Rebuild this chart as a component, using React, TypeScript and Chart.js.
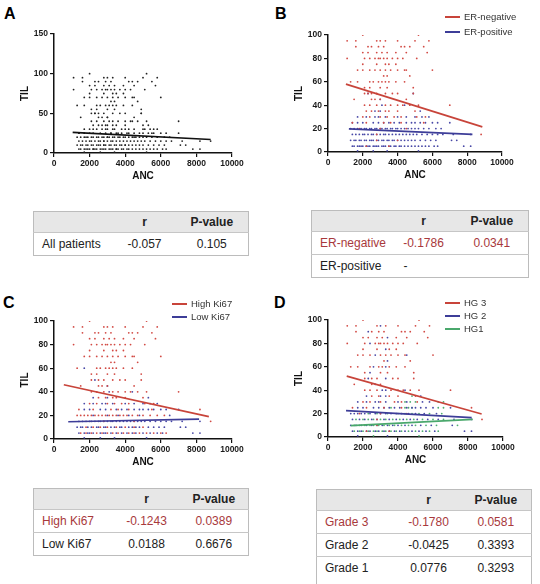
import React, { useEffect, useRef } from "react";
import { Chart, registerables } from "chart.js";

Chart.register(...registerables);

type Rows = [number, number[]][];

// Each row: TIL score (%) followed by the ANC values of the patients at that score,
// stored in hundreds of cells/µL.
const erNegRows: Rows = [
  [100, [20, 52]],
  [95, [11, 16, 28, 30, 33, 40, 50, 58]],
  [90, [16, 23, 25, 29, 32, 42, 44, 47, 55]],
  [85, [20, 23, 28, 31, 34, 39, 45, 57]],
  [80, [11, 21, 24, 27, 29, 30, 32, 34, 37, 40, 43, 51]],
  [75, [20, 28, 33, 35, 39]],
  [70, [17, 20, 24, 27, 30, 33, 36, 40, 44, 45, 60]],
  [65, [32, 34, 47]],
  [60, [13, 17, 24, 26, 29, 31, 33, 35, 39, 44]],
  [55, [21, 24, 30, 34, 49]],
  [50, [21, 23, 25, 28, 33, 37, 40, 49]],
  [45, [15, 25, 27, 30, 45]],
  [40, [21, 24, 28, 33, 36, 40, 43, 47, 52, 70]],
  [35, [22, 25, 29, 33, 35, 40, 50]],
  [30, [20, 24, 30, 34, 38, 42, 51, 56]],
  [25, [14, 22, 32, 36, 42, 55]],
  [20, [18, 30, 45]],
  [15, [28, 88]],
  [10, [28, 40]],
  [5, [22, 35]],
];

const erPosRows: Rows = [
  [50, [23, 49]],
  [45, [30]],
  [40, [31, 44]],
  [35, [27, 30, 53]],
  [30, [17, 22, 27, 29, 33, 40, 45, 50, 54, 58]],
  [25, [14, 17, 20, 26, 29, 32, 35, 38, 41, 45, 48, 50, 53, 56, 60, 63, 70]],
  [20, [13, 15, 17, 19, 21, 22, 24, 25, 27, 28, 30, 31, 33, 34, 36, 37, 39, 40, 42, 44, 46, 48, 50, 52, 55, 58, 62, 65]],
  [15, [14, 16, 18, 20, 21, 23, 25, 26, 28, 30, 32, 33, 35, 37, 39, 41, 43, 45, 47, 49, 51, 54, 57, 60, 63, 66, 72, 82]],
  [10, [13, 15, 16, 18, 19, 21, 22, 24, 25, 26, 28, 29, 31, 32, 34, 35, 37, 38, 40, 42, 44, 46, 48, 50, 53, 56, 59, 62, 71, 74]],
  [5, [14, 15, 17, 18, 19, 20, 22, 23, 24, 26, 27, 28, 29, 31, 32, 33, 35, 36, 38, 39, 41, 42, 44, 46, 48, 50, 52, 54, 56, 58, 61, 63, 78, 82]],
  [1, [17, 26, 34, 52]],
];

const hiKi67Rows: Rows = [
  [100, [20, 52]],
  [95, [11, 16, 28, 30, 33, 40, 50, 58]],
  [90, [16, 23, 25, 29, 32, 42, 44, 47, 55]],
  [85, [20, 23, 28, 31, 34, 39, 45, 57]],
  [80, [11, 21, 24, 27, 29, 30, 32, 34, 37, 40, 43, 51]],
  [75, [20, 28, 33, 35, 39]],
  [70, [17, 20, 24, 27, 30, 33, 36, 40, 44, 45, 60]],
  [65, [32, 34, 47]],
  [60, [13, 24, 26, 29, 31, 33, 35, 39, 44]],
  [55, [21, 24, 30, 34, 49]],
  [50, [21, 25, 28, 33, 37, 40, 49]],
  [45, [15, 25, 27, 30, 45]],
  [40, [21, 24, 28, 33, 36, 40, 43, 47, 52, 70]],
  [35, [25, 29, 33, 35, 40, 50]],
  [30, [20, 24, 30, 34, 38, 42, 51, 56]],
  [25, [14, 22, 32, 36, 42, 55, 82]],
  [20, [13, 15, 17, 19, 21, 23, 25, 27, 29, 31, 33, 35, 37, 39, 41, 44, 47, 50, 54, 58, 62]],
  [15, [28, 45, 88]],
  [10, [18, 22, 26, 30, 35, 40, 45, 50]],
  [5, [15, 18, 21, 24, 27, 30, 33, 36, 39, 42, 45, 48, 52, 56, 60, 63]],
];

const loKi67Rows: Rows = [
  [60, [17]],
  [50, [23]],
  [45, [30]],
  [40, [31, 44]],
  [35, [22, 30, 53]],
  [30, [17, 22, 27, 29, 33, 40, 45, 50, 54, 58]],
  [25, [17, 20, 26, 29, 35, 38, 41, 45, 48, 50, 53, 56, 60, 63, 70]],
  [20, [22, 30, 36, 42, 48, 65]],
  [15, [14, 16, 18, 20, 21, 23, 25, 26, 28, 30, 32, 33, 35, 37, 39, 41, 43, 45, 47, 49, 51, 54, 57, 60, 63, 66, 72, 82]],
  [10, [13, 15, 16, 19, 21, 24, 25, 28, 29, 32, 34, 37, 38, 42, 44, 46, 48, 53, 56, 59, 62, 71, 74]],
  [5, [14, 17, 19, 20, 22, 26, 28, 29, 32, 35, 38, 41, 44, 46, 50, 54, 58, 61, 78, 82]],
  [1, [17, 26, 34, 52]],
];

const hg3Rows: Rows = [
  [100, [20, 52]],
  [95, [11, 16, 28, 33, 40, 50, 58]],
  [90, [16, 25, 29, 32, 42, 44, 47, 55]],
  [85, [20, 23, 28, 31, 39, 45, 57]],
  [80, [11, 21, 27, 29, 30, 32, 34, 37, 40, 43, 51]],
  [75, [20, 28, 35, 39]],
  [70, [17, 20, 24, 30, 33, 36, 40, 44, 60]],
  [65, [32, 47]],
  [60, [13, 17, 24, 29, 31, 35, 39, 44]],
  [55, [21, 30, 34, 49]],
  [50, [21, 25, 28, 37, 40, 49]],
  [45, [15, 25, 30]],
  [40, [21, 24, 28, 36, 40, 43, 47, 52, 70]],
  [35, [25, 29, 35, 40, 50]],
  [30, [20, 24, 30, 38, 42, 51]],
  [25, [14, 22, 32, 42, 82]],
  [20, [18, 30, 45]],
  [15, [28, 88]],
  [10, [28]],
  [5, [22, 35]],
];

const hg2Rows: Rows = [
  [95, [30]],
  [90, [23]],
  [85, [34]],
  [80, [24]],
  [75, [33]],
  [70, [27, 45]],
  [65, [34]],
  [60, [26, 33]],
  [55, [24]],
  [50, [23, 33]],
  [45, [27]],
  [40, [31, 33, 44]],
  [35, [22, 30, 33, 53]],
  [30, [17, 22, 27, 29, 33, 40, 45, 54, 58]],
  [25, [17, 20, 26, 29, 32, 35, 38, 41, 45, 48, 50, 53, 56, 60, 70]],
  [20, [13, 15, 17, 19, 21, 24, 27, 30, 33, 36, 39, 42, 46, 50, 55, 62]],
  [15, [14, 18, 21, 25, 28, 32, 35, 39, 43, 47, 51, 57, 63, 72, 82]],
  [10, [13, 16, 19, 22, 25, 28, 31, 34, 37, 40, 44, 48, 53, 59, 71]],
  [5, [14, 17, 19, 22, 24, 27, 29, 32, 35, 38, 41, 44, 48, 52, 56, 61, 78, 82]],
  [1, [17, 34]],
];

const hg1Rows: Rows = [
  [35, [48]],
  [30, [44, 47, 50, 63, 66]],
  [25, [36, 44, 46, 48, 63, 66]],
  [20, [23, 28, 34, 40, 44, 48, 52, 58, 65]],
  [15, [16, 20, 23, 26, 30, 33, 37, 41, 45, 49, 54, 60, 66]],
  [10, [15, 18, 21, 24, 26, 29, 32, 35, 38, 42, 46, 50, 56, 62, 74]],
  [5, [15, 18, 20, 23, 26, 28, 31, 33, 36, 39, 42, 46, 50, 54, 58, 63]],
  [1, [26, 52]],
];

// Linear fits, given as [ANC, TIL] at both ends of each line.
const fitAll = [[1050, 26], [8800, 17]];
const fitErNeg = [[1030, 58], [8870, 21.5]];
const fitErPos = [[1200, 19.7], [8300, 15.1]];
const fitHiKi67 = [[550, 46], [8700, 19]];
const fitLoKi67 = [[800, 14.6], [8150, 16.8]];
const fitHg3 = [[1070, 52], [8780, 19.7]];
const fitHg2 = [[1030, 22.5], [8210, 16.5]];
const fitHg1 = [[1300, 9.8], [8270, 15]];

const ancTicks = [0, 2000, 4000, 6000, 8000, 10000];
const tilTicksAll = [0, 50, 100, 150];
const tilTicks = [0, 20, 40, 60, 80, 100];

// Correlation tables: [group, r, P-value]
const tableAll = [["All patients", "-0.057", "0.105"]];
const tableEr = [["ER-negative", "-0.1786", "0.0341"], ["ER-positive", "-", ""]];
const tableKi67 = [["High Ki67", "-0.1243", "0.0389"], ["Low Ki67", "0.0188", "0.6676"]];
const tableGrade = [["Grade 3", "-0.1780", "0.0581"], ["Grade 2", "-0.0425", "0.3393"], ["Grade 1", "0.0776", "0.3293"]];

const FONT = '"Liberation Sans", Arial, Helvetica, sans-serif';
const RED = "#c8443a";
const BLUE = "#3d3d98";
const GREEN = "#4aa86c";
const INK = "#111111";
const TEXT_RED = "#a8393c";

const PAD = { left: 0, top: 20, right: 40, bottom: 6 };
const Y_W = 54;
const X_H = 30;

type Series = { label: string; rows: Rows; fit: number[][]; line: string; dot: string };
type Area = { left: number; top: number; right: number; bottom: number };

function toPoints(rows: Rows) {
  return rows.flatMap(([til, anc]) => anc.map((a) => ({ x: a * 100, y: til })));
}

function axis(ticks: number[], title: string, vertical: boolean) {
  return {
    type: "linear",
    min: ticks[0],
    max: ticks[ticks.length - 1],
    afterBuildTicks: (scale: any) => {
      scale.ticks = ticks.map((value) => ({ value }));
    },
    afterFit: (scale: any) => {
      if (vertical) scale.width = Y_W;
      else scale.height = X_H;
    },
    ticks: {
      callback: (v: number) => String(v),
      color: "#1a1a1a",
      font: { family: FONT, size: 8.5, weight: "bold" },
      padding: 2,
      maxRotation: 0,
      autoSkip: false,
    },
    grid: { drawOnChartArea: false, drawTicks: true, tickLength: 4, color: INK, lineWidth: 1.2 },
    border: { display: true, color: INK, width: 1.5 },
    title: {
      display: true,
      text: title,
      color: INK,
      font: { family: FONT, size: 10, weight: "bold" },
      padding: vertical ? { top: 19, bottom: 0 } : { top: 0, bottom: 1 },
    },
  };
}

function ScatterPanel({ area, yTicks, series }: { area: Area; yTicks: number[]; series: Series[] }) {
  const ref = useRef<HTMLCanvasElement>(null);
  const width = area.right - area.left + Y_W + PAD.right;
  const height = area.bottom - area.top + PAD.top + X_H + PAD.bottom;

  useEffect(() => {
    const datasets: any[] = [];
    series.forEach((s) => {
      datasets.push({
        label: s.label,
        data: s.fit.map(([x, y]) => ({ x, y })),
        showLine: true,
        borderColor: s.line,
        borderWidth: 1.7,
        pointRadius: 0,
        order: 0,
      });
    });
    series.forEach((s) => {
      datasets.push({
        label: s.label + " (patients)",
        data: toPoints(s.rows),
        showLine: false,
        pointRadius: 0.9,
        pointBackgroundColor: s.dot,
        pointBorderWidth: 0,
        order: 1,
      });
    });
    const chart = new Chart(ref.current!, {
      type: "scatter",
      data: { datasets },
      options: {
        responsive: false,
        animation: false,
        devicePixelRatio: 1,
        layout: { padding: PAD },
        plugins: { legend: { display: false }, tooltip: { enabled: false } },
        scales: {
          x: axis(ancTicks, "ANC", false) as any,
          y: axis(yTicks, "TIL", true) as any,
        },
      },
    });
    return () => chart.destroy();
  }, []);

  return (
    <canvas
      ref={ref}
      width={width}
      height={height}
      style={{ position: "absolute", left: area.left - Y_W, top: area.top - PAD.top, width, height }}
    />
  );
}

function PanelLetter({ text, left, top }: { text: string; left: number; top: number }) {
  return (
    <div
      style={{
        position: "absolute",
        left,
        top,
        font: `bold 16px ${FONT}`,
        lineHeight: "16px",
        color: "#000",
      }}
    >
      {text}
    </div>
  );
}

function Legend({ left, tops, items }: { left: number; tops: number[]; items: Series[] }) {
  return (
    <>
      {items.map((s, i) => (
        <div
          key={s.label}
          style={{ position: "absolute", left, top: tops[i] - 6, height: 12, display: "flex", alignItems: "center" }}
        >
          <span style={{ display: "inline-block", width: 15, height: 2, background: s.line }} />
          <span style={{ marginLeft: 4, font: `9.5px ${FONT}`, color: "#333", lineHeight: "12px" }}>{s.label}</span>
        </div>
      ))}
    </>
  );
}

function StatTable({
  left,
  top,
  cols,
  rows,
  redRows,
  lastHeight,
}: {
  left: number;
  top: number;
  cols: number[];
  rows: string[][];
  redRows: number[];
  lastHeight?: number;
}) {
  const width = cols.reduce((a, b) => a + b, 0);
  const line = "1px solid #c6c6c6";
  const open = !!lastHeight;
  const cell = (align: "left" | "center"): React.CSSProperties => ({
    padding: 0,
    paddingLeft: align === "left" ? 8 : 0,
    textAlign: align,
    verticalAlign: "middle",
    whiteSpace: "nowrap",
  });
  return (
    <table
      style={{
        position: "absolute",
        left,
        top,
        width,
        borderCollapse: "collapse",
        tableLayout: "fixed",
        border: "1px solid #bcbcbc",
        borderBottom: open ? "none" : "1px solid #bcbcbc",
        font: `12px ${FONT}`,
        color: "#222",
      }}
    >
      <colgroup>
        {cols.map((w, i) => (
          <col key={i} style={{ width: w }} />
        ))}
      </colgroup>
      <thead>
        <tr style={{ height: 21, background: "#e7e7e7", fontWeight: "bold" }}>
          <th style={cell("left")}></th>
          <th style={cell("center")}>r</th>
          <th style={cell("center")}>P-value</th>
        </tr>
      </thead>
      <tbody>
        {rows.map((r, i) => {
          const isLast = i === rows.length - 1;
          const tall = isLast && open;
          const h = tall ? lastHeight : 22;
          const color = redRows.includes(i) ? TEXT_RED : "#222";
          const dash = r[1] === "-";
          const vAlign = tall ? "top" : "middle";
          const pTop = tall ? 4 : 0;
          return (
            <tr key={i} style={{ height: h, borderTop: line, color }}>
              <td style={{ ...cell("left"), height: h, verticalAlign: vAlign, paddingTop: pTop }}>{r[0]}</td>
              <td
                style={{
                  ...cell(dash ? "left" : "center"),
                  paddingLeft: dash ? 12 : 0,
                  verticalAlign: vAlign,
                  paddingTop: pTop,
                }}
              >
                {r[1]}
              </td>
              <td style={{ ...cell("center"), verticalAlign: vAlign, paddingTop: pTop }}>{r[2]}</td>
            </tr>
          );
        })}
      </tbody>
    </table>
  );
}

export default function App() {
  const allPatients: Series = {
    label: "All patients",
    rows: [...erNegRows, ...erPosRows],
    fit: fitAll,
    line: INK,
    dot: "#222",
  };
  const erSeries: Series[] = [
    { label: "ER-negative", rows: erNegRows, fit: fitErNeg, line: RED, dot: "#d24a44" },
    { label: "ER-positive", rows: erPosRows, fit: fitErPos, line: BLUE, dot: "#4848a6" },
  ];
  const kiSeries: Series[] = [
    { label: "High Ki67", rows: hiKi67Rows, fit: fitHiKi67, line: RED, dot: "#d24a44" },
    { label: "Low Ki67", rows: loKi67Rows, fit: fitLoKi67, line: BLUE, dot: "#4848a6" },
  ];
  const gradeSeries: Series[] = [
    { label: "HG 3", rows: hg3Rows, fit: fitHg3, line: RED, dot: "#d24a44" },
    { label: "HG 2", rows: hg2Rows, fit: fitHg2, line: BLUE, dot: "#4848a6" },
    { label: "HG1", rows: hg1Rows, fit: fitHg1, line: GREEN, dot: "#4fae70" },
  ];

  return (
    <div
      style={{
        position: "absolute",
        left: 0,
        top: 0,
        width: 540,
        height: 584,
        overflow: "hidden",
        background: "#fff",
      }}
    >
      <PanelLetter text="A" left={4} top={6} />
      <PanelLetter text="B" left={275} top={6} />
      <PanelLetter text="C" left={3} top={295} />
      <PanelLetter text="D" left={274} top={295} />

      <ScatterPanel area={{ left: 54, top: 34, right: 232, bottom: 153 }} yTicks={tilTicksAll} series={[allPatients]} />
      <ScatterPanel area={{ left: 328, top: 35, right: 502, bottom: 152 }} yTicks={tilTicks} series={erSeries} />
      <ScatterPanel area={{ left: 54, top: 321, right: 232, bottom: 439 }} yTicks={tilTicks} series={kiSeries} />
      <ScatterPanel area={{ left: 328, top: 320, right: 503, bottom: 437 }} yTicks={tilTicks} series={gradeSeries} />

      <Legend left={445} tops={[17, 32]} items={erSeries} />
      <Legend left={172} tops={[304, 317]} items={kiSeries} />
      <Legend left={445} tops={[303, 316, 329]} items={gradeSeries} />

      <StatTable left={33} top={211} cols={[80, 62, 73]} rows={tableAll} redRows={[]} />
      <StatTable left={311} top={210} cols={[80, 64, 73]} rows={tableEr} redRows={[0]} />
      <StatTable left={33} top={488} cols={[80, 66, 69]} rows={tableKi67} redRows={[0]} />
      <StatTable left={316} top={489} cols={[80, 64, 71]} rows={tableGrade} redRows={[0]} lastHeight={40} />
    </div>
  );
}
